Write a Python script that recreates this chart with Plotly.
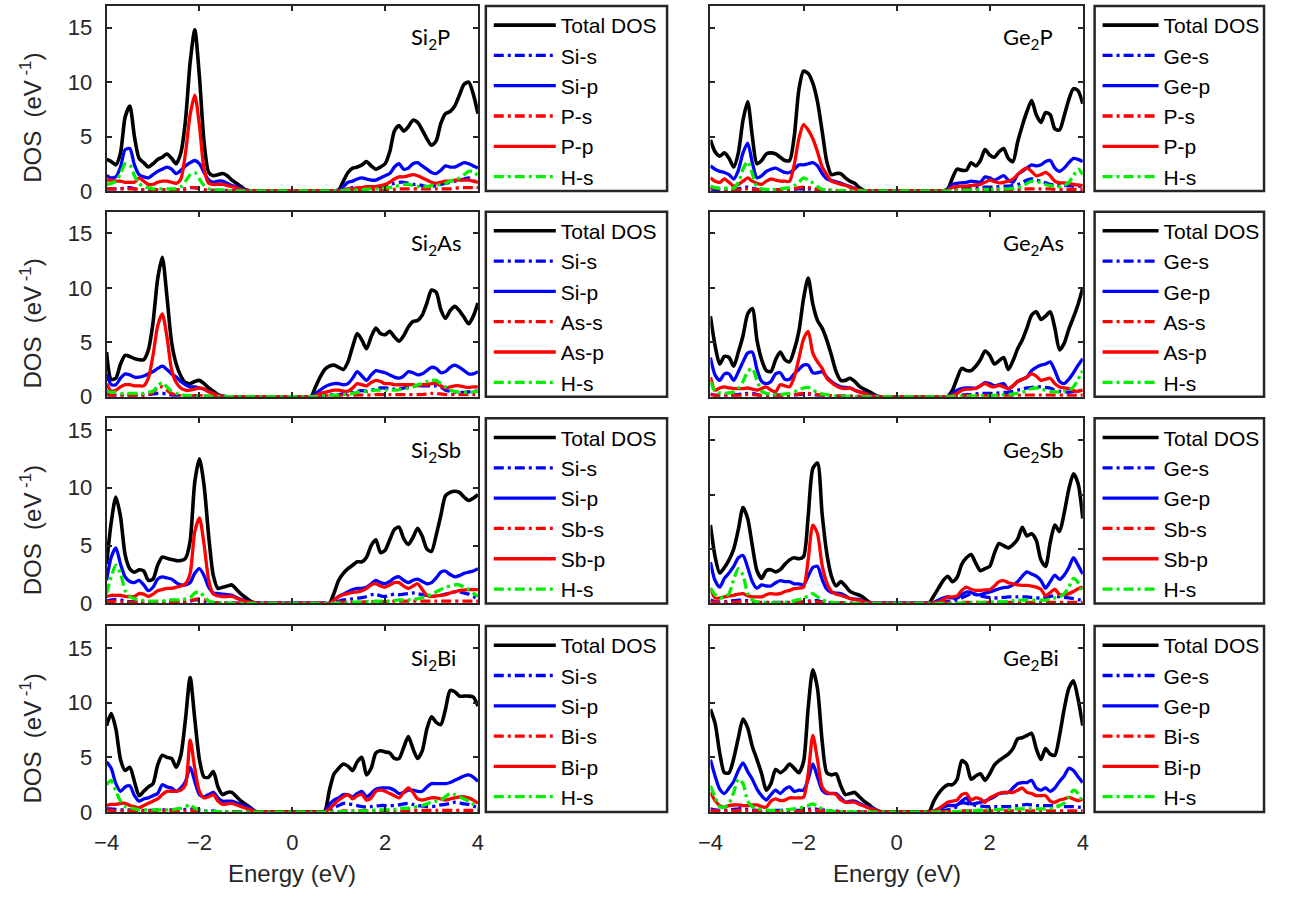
import plotly.graph_objects as go

# Energy grid (eV), 0.1 eV step
energy = [round(-4.0 + 0.1 * i, 1) for i in range(81)]

# ---------------- Si2P ----------------
si2p_tot = [
    2.9, 2.7, 2.4, 3.5, 6.8, 7.8, 5.0, 3.0, 2.6, 2.2,
    2.5, 2.9, 3.1, 3.4, 3.0, 2.5, 3.5, 6.5, 11.8, 14.8,
    10.5, 4.5, 1.7, 1.4, 1.5, 1.6, 1.4, 1.0, 0.7, 0.4,
    0.1, 0, 0, 0, 0, 0, 0, 0, 0, 0,
    0, 0, 0, 0, 0, 0, 0, 0, 0, 0,
    0.1, 0.9, 1.7, 2.1, 2.2, 2.4, 2.7, 2.3, 2.0, 2.2,
    2.5, 3.6, 5.5, 6.0, 5.5, 5.9, 6.5, 6.3, 5.6, 4.8,
    4.2, 4.6, 6.2, 7.1, 7.3, 7.8, 8.8, 9.8, 10.0, 8.9,
    7.1,
]
si2p_a_s = [
    0.2, 0.2, 0.2, 0.2, 0.3, 0.3, 0.2, 0.1, 0.1, 0.1,
    0.1, 0.1, 0.1, 0.1, 0.1, 0.1, 0.1, 0.2, 0.3, 0.3,
    0.2, 0.1, 0.05, 0.05, 0.05, 0.05, 0.05, 0.05, 0.03, 0,
    0, 0, 0, 0, 0, 0, 0, 0, 0, 0,
    0, 0, 0, 0, 0, 0, 0, 0, 0, 0,
    0, 0.1, 0.2, 0.3, 0.3, 0.3, 0.3, 0.3, 0.3, 0.4,
    0.5, 0.6, 0.7, 0.8, 0.8, 0.7, 0.6, 0.6, 0.5, 0.4,
    0.4, 0.5, 0.6, 0.7, 0.8, 0.9, 1.0, 1.1, 1.2, 1.0,
    0.6,
]
si2p_a_p = [
    1.4, 1.2, 1.3, 2.2, 3.8, 3.9, 2.4, 1.5, 1.3, 1.2,
    1.5, 1.8, 2.0, 2.2, 2.0, 1.6, 1.9, 2.3, 2.6, 2.8,
    2.5, 1.7, 1.0, 0.8, 0.9, 0.9, 0.7, 0.5, 0.4, 0.2,
    0.1, 0, 0, 0, 0, 0, 0, 0, 0, 0,
    0, 0, 0, 0, 0, 0, 0, 0, 0, 0,
    0.05, 0.4, 0.8, 0.9, 1.1, 1.2, 1.1, 1.0, 1.0, 1.2,
    1.4, 1.6, 2.2, 2.5, 2.0, 2.1, 2.5, 2.6, 2.3, 2.0,
    1.7, 1.6, 1.9, 2.3, 2.2, 2.2, 2.4, 2.6, 2.5, 2.3,
    2.1,
]
si2p_b_s = [
    0.2, 0.2, 0.2, 0.2, 0.2, 0.2, 0.2, 0.1, 0.1, 0.1,
    0.1, 0.1, 0.1, 0.1, 0.1, 0.1, 0.1, 0.2, 0.3, 0.3,
    0.2, 0.1, 0.05, 0.05, 0.05, 0.05, 0.03, 0.02, 0, 0,
    0, 0, 0, 0, 0, 0, 0, 0, 0, 0,
    0, 0, 0, 0, 0, 0, 0, 0, 0, 0,
    0, 0.05, 0.1, 0.1, 0.1, 0.1, 0.1, 0.1, 0.1, 0.1,
    0.1, 0.1, 0.15, 0.2, 0.2, 0.2, 0.2, 0.2, 0.2, 0.2,
    0.2, 0.2, 0.2, 0.2, 0.2, 0.25, 0.3, 0.3, 0.3, 0.3,
    0.3,
]
si2p_b_p = [
    1.0, 1.0, 0.9, 0.9, 0.8, 0.8, 0.8, 1.2, 0.9, 0.6,
    0.6, 0.8, 0.9, 0.9, 0.8, 0.7, 1.1, 3.5, 7.0, 8.8,
    6.0, 2.0, 0.7, 0.6, 0.6, 0.6, 0.5, 0.4, 0.3, 0.1,
    0.05, 0, 0, 0, 0, 0, 0, 0, 0, 0,
    0, 0, 0, 0, 0, 0, 0, 0, 0, 0,
    0, 0.1, 0.2, 0.2, 0.3, 0.3, 0.4, 0.4, 0.4, 0.5,
    0.6, 0.8, 1.1, 1.3, 1.3, 1.4, 1.5, 1.4, 1.2, 1.0,
    0.8, 0.7, 0.8, 0.9, 0.9, 1.0, 1.0, 1.0, 1.0, 0.9,
    0.8,
]
si2p_h_s = [
    0.6, 0.7, 0.9, 1.6, 2.5, 2.4, 1.4, 0.7, 0.4, 0.3,
    0.2, 0.2, 0.2, 0.2, 0.2, 0.2, 0.4, 0.9, 1.5, 1.7,
    1.1, 0.5, 0.2, 0.1, 0.1, 0.1, 0.05, 0.03, 0, 0,
    0, 0, 0, 0, 0, 0, 0, 0, 0, 0,
    0, 0, 0, 0, 0, 0, 0, 0, 0, 0,
    0, 0.05, 0.1, 0.1, 0.1, 0.1, 0.15, 0.2, 0.2, 0.2,
    0.3, 0.3, 0.4, 0.5, 0.6, 0.6, 0.5, 0.4, 0.4, 0.4,
    0.5, 0.5, 0.6, 0.7, 0.9, 1.0, 1.2, 1.5, 1.8, 1.8,
    1.4,
]

# ---------------- Si2As ----------------
si2as_tot = [
    4.1, 1.6, 1.7, 3.0, 3.8, 3.7, 3.5, 3.4, 3.4, 4.3,
    6.8, 10.8, 12.8, 9.2, 5.0, 3.0, 1.9, 1.3, 1.2, 1.4,
    1.5, 1.2, 0.8, 0.5, 0.2, 0.05, 0, 0, 0, 0,
    0, 0, 0, 0, 0, 0, 0, 0, 0, 0,
    0, 0, 0, 0, 0, 0.9, 1.8, 2.5, 2.8, 2.9,
    2.7, 2.5, 3.2, 4.6, 5.8, 5.2, 4.4, 5.5, 6.3, 5.8,
    5.7, 6.0, 5.5, 5.1, 5.6, 6.4, 6.9, 7.0, 7.5, 8.6,
    9.8, 9.6, 8.0, 7.2, 7.9, 8.3, 7.9, 7.3, 6.7, 7.4,
    8.6,
]
si2as_a_s = [
    0.2, 0.15, 0.15, 0.15, 0.15, 0.15, 0.15, 0.15, 0.15, 0.2,
    0.25, 0.3, 0.3, 0.25, 0.15, 0.1, 0.1, 0.1, 0.1, 0.1,
    0.1, 0.05, 0.05, 0.03, 0, 0, 0, 0, 0, 0,
    0, 0, 0, 0, 0, 0, 0, 0, 0, 0,
    0, 0, 0, 0, 0, 0, 0.05, 0.1, 0.15, 0.2,
    0.2, 0.25, 0.3, 0.4, 0.5, 0.55, 0.5, 0.6, 0.7, 0.8,
    0.8, 0.75, 0.7, 0.7, 0.8, 0.9, 0.95, 1.0, 1.0, 1.0,
    1.0, 1.0, 0.9, 0.6, 0.5, 0.45, 0.4, 0.4, 0.45, 0.5,
    0.5,
]
si2as_a_p = [
    2.1, 1.1, 1.1, 1.7, 2.1, 2.0, 1.8, 1.8, 1.9, 2.1,
    2.3, 2.6, 2.8, 2.5, 2.1, 1.8, 1.4, 1.1, 0.9, 0.9,
    0.8, 0.7, 0.5, 0.3, 0.15, 0.05, 0, 0, 0, 0,
    0, 0, 0, 0, 0, 0, 0, 0, 0, 0,
    0, 0, 0, 0, 0, 0.3, 0.6, 0.9, 1.1, 1.2,
    1.2, 1.1, 1.2, 1.7, 2.3, 1.9, 1.5, 2.0, 2.4, 2.3,
    2.2, 2.0, 1.8, 1.7, 1.9, 2.3, 2.2, 2.0, 2.1, 2.4,
    2.7, 2.6, 2.2, 2.3, 2.7, 2.9, 2.7, 2.4, 2.1, 2.1,
    2.3,
]
si2as_b_s = [
    0.2, 0.1, 0.1, 0.1, 0.1, 0.1, 0.1, 0.1, 0.1, 0.2,
    0.4, 0.8, 0.9, 0.6, 0.3, 0.15, 0.1, 0.1, 0.1, 0.1,
    0.1, 0.05, 0.05, 0.03, 0, 0, 0, 0, 0, 0,
    0, 0, 0, 0, 0, 0, 0, 0, 0, 0,
    0, 0, 0, 0, 0, 0, 0.05, 0.05, 0.1, 0.1,
    0.1, 0.1, 0.1, 0.1, 0.15, 0.15, 0.15, 0.15, 0.2, 0.2,
    0.2, 0.2, 0.2, 0.2, 0.2, 0.2, 0.2, 0.2, 0.2, 0.25,
    0.3, 0.3, 0.25, 0.2, 0.2, 0.2, 0.2, 0.2, 0.2, 0.2,
    0.2,
]
si2as_b_p = [
    1.2, 0.5, 0.6, 0.9, 1.1, 1.1, 1.0, 1.0, 1.0, 1.7,
    3.8, 6.5, 7.6, 5.5, 2.5, 1.3, 0.8, 0.6, 0.6, 0.7,
    0.8, 0.7, 0.45, 0.3, 0.1, 0.03, 0, 0, 0, 0,
    0, 0, 0, 0, 0, 0, 0, 0, 0, 0,
    0, 0, 0, 0, 0, 0.1, 0.3, 0.4, 0.5, 0.6,
    0.6, 0.5, 0.5, 0.8, 1.2, 1.1, 1.0, 1.3, 1.5, 1.4,
    1.2, 1.2, 1.1, 1.1, 1.1, 1.1, 1.1, 1.0, 1.1, 1.1,
    1.2, 1.2, 1.0, 0.8, 0.9, 1.0, 1.0, 0.9, 0.85, 0.9,
    0.9,
]
si2as_h_s = [
    0.5, 0.4, 0.4, 0.3, 0.3, 0.3, 0.3, 0.3, 0.3, 0.4,
    0.5, 1.0, 1.3, 0.9, 0.5, 0.3, 0.2, 0.1, 0.1, 0.1,
    0.05, 0.05, 0.05, 0.03, 0, 0, 0, 0, 0, 0,
    0, 0, 0, 0, 0, 0, 0, 0, 0, 0,
    0, 0, 0, 0, 0, 0, 0.05, 0.1, 0.1, 0.15,
    0.15, 0.2, 0.25, 0.3, 0.4, 0.45, 0.5, 0.55, 0.6, 0.6,
    0.6, 0.6, 0.6, 0.65, 0.7, 0.8, 0.9, 1.1, 1.2, 1.4,
    1.5, 1.5, 1.2, 0.9, 0.6, 0.5, 0.4, 0.4, 0.4, 0.45,
    0.5,
]

# ---------------- Si2Sb ----------------
si2sb_tot = [
    3.4, 7.0, 9.2, 7.5, 4.2, 3.0, 2.7, 2.9, 2.8, 2.0,
    2.1, 3.3, 4.0, 3.9, 3.8, 3.7, 3.7, 3.9, 5.4, 10.5,
    12.5, 10.2, 5.8, 2.4, 1.3, 1.4, 1.5, 1.6, 1.2, 0.8,
    0.5, 0.2, 0.05, 0, 0, 0, 0, 0, 0, 0,
    0, 0, 0, 0, 0, 0, 0, 0, 0, 0.9,
    2.0, 2.6, 3.0, 3.3, 3.6, 3.6, 4.0, 5.0, 5.5, 4.4,
    4.6, 5.5, 6.4, 6.6, 5.6, 5.1, 5.7, 6.5, 5.8, 4.7,
    4.5, 5.9, 7.6, 9.3, 9.6, 9.7, 9.6, 9.2, 8.9, 9.1,
    9.4,
]
si2sb_a_s = [
    0.2, 0.3, 0.35, 0.3, 0.2, 0.15, 0.15, 0.15, 0.15, 0.1,
    0.1, 0.15, 0.15, 0.15, 0.15, 0.15, 0.15, 0.15, 0.2, 0.3,
    0.3, 0.2, 0.1, 0.05, 0.05, 0.05, 0.05, 0.05, 0.03, 0.02,
    0, 0, 0, 0, 0, 0, 0, 0, 0, 0,
    0, 0, 0, 0, 0, 0, 0, 0, 0, 0.1,
    0.2, 0.3, 0.35, 0.4, 0.45, 0.5, 0.6, 0.75, 0.8, 0.65,
    0.6, 0.7, 0.8, 0.75, 0.8, 0.85, 0.9, 0.85, 0.75, 0.7,
    0.65, 0.6, 0.7, 0.8, 0.9, 1.0, 1.0, 0.9, 0.8, 0.6,
    0.4,
]
si2sb_a_p = [
    2.0, 4.0, 4.8, 3.4, 2.3, 1.9, 1.8, 2.0, 1.6, 1.1,
    1.4, 2.1, 2.3, 2.2, 2.1, 1.8, 1.6, 1.6, 1.8, 2.6,
    3.0, 2.4, 1.4, 0.9, 0.85, 0.8, 0.75, 0.7, 0.5, 0.35,
    0.2, 0.1, 0.05, 0, 0, 0, 0, 0, 0, 0,
    0, 0, 0, 0, 0, 0, 0, 0, 0, 0.3,
    0.6, 0.8, 1.0, 1.2, 1.3, 1.3, 1.4, 1.7, 2.0, 1.8,
    1.7, 1.9, 2.2, 2.3, 2.0, 1.8, 2.0, 2.1, 1.9, 1.7,
    1.8, 2.2, 2.7, 2.8, 2.5, 2.3, 2.4, 2.6, 2.7, 2.8,
    3.0,
]
si2sb_b_s = [
    0.15, 0.15, 0.2, 0.15, 0.1, 0.1, 0.1, 0.1, 0.1, 0.1,
    0.1, 0.1, 0.1, 0.1, 0.1, 0.1, 0.1, 0.15, 0.2, 0.35,
    0.4, 0.3, 0.15, 0.05, 0.05, 0.05, 0.05, 0.03, 0.02, 0,
    0, 0, 0, 0, 0, 0, 0, 0, 0, 0,
    0, 0, 0, 0, 0, 0, 0, 0, 0, 0.05,
    0.1, 0.1, 0.1, 0.1, 0.1, 0.1, 0.15, 0.15, 0.15, 0.15,
    0.15, 0.15, 0.2, 0.2, 0.2, 0.2, 0.2, 0.2, 0.2, 0.2,
    0.2, 0.2, 0.2, 0.2, 0.2, 0.2, 0.2, 0.2, 0.2, 0.2,
    0.2,
]
si2sb_b_p = [
    0.6, 0.7, 0.7, 0.7, 0.6, 0.6, 0.6, 0.85, 0.8, 0.6,
    0.8, 1.1, 1.2, 1.3, 1.3, 1.4, 1.5, 1.7, 2.6, 6.2,
    7.4, 5.1, 2.0, 0.8, 0.65, 0.6, 0.6, 0.6, 0.45, 0.3,
    0.15, 0.08, 0.03, 0, 0, 0, 0, 0, 0, 0,
    0, 0, 0, 0, 0, 0, 0, 0, 0, 0.3,
    0.6, 0.75, 0.85, 0.95, 1.0, 1.1, 1.3, 1.6, 1.7, 1.5,
    1.4, 1.6, 1.8, 1.8, 1.5, 1.3, 1.5, 1.7, 1.2, 0.7,
    0.6, 0.65, 0.7, 0.75, 0.9, 1.0, 1.1, 1.15, 1.2, 1.2,
    1.2,
]
si2sb_h_s = [
    0.85, 2.3, 3.3, 2.6, 1.1, 0.6, 0.4, 0.3, 0.25, 0.2,
    0.2, 0.2, 0.2, 0.25, 0.3, 0.3, 0.3, 0.4, 0.5, 0.9,
    1.0, 0.6, 0.2, 0.1, 0.05, 0.05, 0.05, 0.03, 0, 0,
    0, 0, 0, 0, 0, 0, 0, 0, 0, 0,
    0, 0, 0, 0, 0, 0, 0, 0, 0, 0,
    0.05, 0.05, 0.05, 0.1, 0.1, 0.1, 0.15, 0.15, 0.2, 0.2,
    0.2, 0.2, 0.25, 0.3, 0.3, 0.3, 0.35, 0.4, 0.5, 0.6,
    0.8, 1.0, 1.2, 1.4, 1.5, 1.6, 1.6, 1.4, 1.2, 0.9,
    0.6,
]

# ---------------- Si2Bi ----------------
si2bi_tot = [
    7.9, 9.0, 7.6, 4.8, 3.8, 4.1, 2.8, 1.5, 1.9, 2.3,
    2.6, 4.3, 5.2, 5.0, 4.9, 4.1, 5.2, 8.5, 12.3, 8.5,
    4.8, 3.2, 3.2, 3.7, 2.3, 1.6, 1.8, 1.8, 1.4, 1.0,
    0.7, 0.4, 0.05, 0, 0, 0, 0, 0, 0, 0,
    0, 0, 0, 0, 0, 0, 0, 0.1, 2.0, 3.5,
    4.0, 4.4, 4.2, 3.8, 4.6, 5.0, 3.4, 4.0, 5.4, 5.6,
    5.5, 5.4, 4.9, 4.9, 5.9, 6.9, 5.8, 4.9, 5.6, 7.6,
    8.7, 8.2, 8.0, 9.4, 11.1, 11.0, 10.6, 10.6, 10.6, 10.5,
    9.7,
]
si2bi_a_s = [
    0.3, 0.3, 0.25, 0.2, 0.2, 0.2, 0.15, 0.15, 0.15, 0.15,
    0.15, 0.2, 0.2, 0.2, 0.2, 0.2, 0.2, 0.25, 0.3, 0.2,
    0.15, 0.1, 0.1, 0.1, 0.05, 0.05, 0.05, 0.05, 0.03, 0.02,
    0, 0, 0, 0, 0, 0, 0, 0, 0, 0,
    0, 0, 0, 0, 0, 0, 0, 0, 0.2, 0.4,
    0.6, 0.8, 0.75, 0.7, 0.6, 0.5, 0.45, 0.5, 0.55, 0.6,
    0.6, 0.6, 0.6, 0.65, 0.75, 0.8, 0.7, 0.6, 0.55, 0.5,
    0.5, 0.55, 0.65, 0.7, 0.8, 0.9, 0.85, 0.75, 0.7, 0.55,
    0.4,
]
si2bi_a_p = [
    4.6, 4.0, 2.6, 1.9, 2.3, 2.4, 1.5, 1.0, 1.2, 1.3,
    1.5, 1.7, 2.5, 2.3, 2.2, 1.9, 2.2, 2.8, 4.1, 2.8,
    1.6, 1.4, 1.6, 1.8, 1.3, 1.0, 1.0, 1.0, 0.85, 0.7,
    0.5, 0.35, 0.1, 0, 0, 0, 0, 0, 0, 0,
    0, 0, 0, 0, 0, 0, 0, 0.05, 0.7, 1.1,
    1.3, 1.6, 1.6, 1.4, 1.7, 1.9, 1.4, 1.7, 2.1, 2.2,
    2.2, 2.2, 2.0, 1.7, 1.8, 2.0, 2.0, 1.9, 1.9, 2.3,
    2.6, 2.6, 2.6, 2.6, 2.7, 2.9, 3.1, 3.3, 3.4, 3.2,
    2.8,
]
si2bi_b_s = [
    0.2, 0.15, 0.1, 0.1, 0.1, 0.1, 0.1, 0.1, 0.1, 0.1,
    0.1, 0.1, 0.1, 0.1, 0.1, 0.1, 0.1, 0.1, 0.15, 0.1,
    0.1, 0.05, 0.05, 0.05, 0.05, 0.03, 0.02, 0.02, 0, 0,
    0, 0, 0, 0, 0, 0, 0, 0, 0, 0,
    0, 0, 0, 0, 0, 0, 0, 0, 0, 0.05,
    0.05, 0.1, 0.1, 0.1, 0.1, 0.1, 0.1, 0.1, 0.1, 0.1,
    0.1, 0.1, 0.1, 0.1, 0.1, 0.15, 0.15, 0.15, 0.15, 0.15,
    0.15, 0.15, 0.15, 0.15, 0.15, 0.15, 0.15, 0.15, 0.15, 0.15,
    0.15,
]
si2bi_b_p = [
    0.6, 0.7, 0.7, 0.8, 0.8, 0.6, 0.5, 0.4, 0.6, 0.8,
    1.0, 1.2, 1.6, 1.9, 1.9, 1.9, 2.0, 2.5, 6.6, 4.0,
    1.9, 1.3, 1.4, 1.6, 1.0, 0.7, 0.75, 0.8, 0.65, 0.5,
    0.35, 0.2, 0.05, 0, 0, 0, 0, 0, 0, 0,
    0, 0, 0, 0, 0, 0, 0, 0, 0.3, 0.7,
    1.1, 1.4, 1.6, 1.2, 1.5, 1.6, 1.1, 1.3, 1.9, 2.0,
    1.9, 1.7, 1.5, 1.3, 1.8, 2.2, 1.8, 1.2, 1.1, 1.2,
    1.3, 1.3, 1.2, 1.1, 1.2, 1.3, 1.4, 1.4, 1.3, 1.1,
    0.8,
]
si2bi_h_s = [
    2.5, 2.9, 1.9, 1.0, 0.5, 0.4, 0.3, 0.2, 0.2, 0.2,
    0.2, 0.2, 0.2, 0.2, 0.2, 0.3, 0.35, 0.5, 0.7, 0.35,
    0.2, 0.1, 0.05, 0.05, 0.05, 0.03, 0.02, 0, 0, 0,
    0, 0, 0, 0, 0, 0, 0, 0, 0, 0,
    0, 0, 0, 0, 0, 0, 0, 0, 0, 0,
    0.05, 0.05, 0.05, 0.08, 0.1, 0.1, 0.12, 0.15, 0.18, 0.2,
    0.2, 0.22, 0.25, 0.3, 0.35, 0.35, 0.4, 0.5, 0.6, 0.75,
    0.9, 1.0, 1.1, 1.4, 1.7, 1.6, 1.4, 1.2, 1.0, 0.7,
    0.4,
]

# ---------------- Ge2P ----------------
ge2p_tot = [
    4.7, 3.6, 3.2, 3.5, 3.0, 2.2, 3.5, 6.5, 8.2, 5.0,
    2.5, 2.8, 3.4, 3.5, 3.4, 3.1, 2.8, 2.8, 5.0, 9.3,
    11.0, 10.8, 9.9, 8.2, 5.5, 2.7, 1.5, 1.6, 1.6, 1.2,
    0.9, 0.7, 0.3, 0.05, 0, 0, 0, 0, 0, 0,
    0, 0, 0, 0, 0, 0, 0, 0, 0, 0,
    0, 0.2, 1.2, 2.0, 1.9, 1.9, 2.6, 2.3, 2.8, 3.8,
    3.3, 3.1, 3.6, 3.9, 3.0, 2.7, 4.5, 6.0, 7.3, 8.3,
    7.0, 6.3, 7.2, 7.0, 5.7, 5.6, 6.9, 8.4, 9.4, 9.2,
    8.0,
]
ge2p_a_s = [
    0.2, 0.15, 0.15, 0.15, 0.15, 0.15, 0.2, 0.3, 0.35, 0.25,
    0.15, 0.1, 0.1, 0.1, 0.1, 0.1, 0.1, 0.1, 0.15, 0.2,
    0.2, 0.2, 0.15, 0.1, 0.1, 0.05, 0.05, 0.05, 0.03, 0.02,
    0, 0, 0, 0, 0, 0, 0, 0, 0, 0,
    0, 0, 0, 0, 0, 0, 0, 0, 0, 0,
    0, 0.05, 0.15, 0.2, 0.2, 0.25, 0.3, 0.3, 0.3, 0.35,
    0.35, 0.35, 0.4, 0.45, 0.45, 0.5, 0.6, 0.8, 1.0, 1.1,
    1.0, 0.9, 0.75, 0.6, 0.55, 0.5, 0.5, 0.5, 0.45, 0.45,
    0.4,
]
ge2p_a_p = [
    2.3, 2.0, 1.8, 1.7, 1.5, 1.1, 1.9, 3.5, 4.4, 2.6,
    1.2, 1.4, 1.8, 2.0, 2.1, 1.9, 1.7, 1.7, 2.0, 2.4,
    2.4, 2.5, 2.6, 2.3, 1.6, 1.1, 0.95, 0.85, 0.7, 0.55,
    0.4, 0.25, 0.1, 0.03, 0, 0, 0, 0, 0, 0,
    0, 0, 0, 0, 0, 0, 0, 0, 0, 0,
    0, 0.1, 0.6, 0.7, 0.75, 0.8, 0.9, 0.85, 0.8, 1.3,
    1.2, 1.0, 1.2, 1.4, 1.0, 0.8, 1.5, 1.8, 2.1, 2.4,
    2.3, 2.4, 2.7, 2.8, 2.1, 1.8, 2.1, 2.6, 3.0, 2.9,
    2.7,
]
ge2p_b_s = [
    0.25, 0.3, 0.2, 0.15, 0.15, 0.1, 0.1, 0.15, 0.2, 0.15,
    0.1, 0.1, 0.1, 0.1, 0.1, 0.1, 0.1, 0.15, 0.2, 0.3,
    0.35, 0.3, 0.25, 0.15, 0.1, 0.05, 0.05, 0.03, 0.02, 0,
    0, 0, 0, 0, 0, 0, 0, 0, 0, 0,
    0, 0, 0, 0, 0, 0, 0, 0, 0, 0,
    0, 0.02, 0.05, 0.1, 0.1, 0.1, 0.1, 0.1, 0.1, 0.1,
    0.1, 0.1, 0.1, 0.1, 0.1, 0.15, 0.15, 0.15, 0.2, 0.2,
    0.2, 0.2, 0.2, 0.2, 0.15, 0.15, 0.15, 0.15, 0.15, 0.15,
    0.15,
]
ge2p_b_p = [
    1.2, 0.9, 0.8, 1.1, 0.8, 0.45, 0.6, 0.9, 1.2, 0.9,
    0.7, 0.6, 0.9, 1.1, 1.0, 0.9, 0.9, 0.9, 2.4, 4.8,
    6.1, 5.6, 4.8, 3.6, 2.2, 1.5, 0.9, 0.75, 0.6, 0.5,
    0.35, 0.2, 0.1, 0.02, 0, 0, 0, 0, 0, 0,
    0, 0, 0, 0, 0, 0, 0, 0, 0, 0,
    0, 0.05, 0.35, 0.4, 0.45, 0.45, 0.5, 0.55, 0.6, 0.8,
    1.0, 0.85, 0.75, 0.8, 0.9, 1.1, 1.5, 1.9, 2.1, 1.8,
    1.4, 1.5, 1.7, 1.4, 0.9, 0.75, 0.75, 0.7, 0.6, 0.55,
    0.5,
]
ge2p_h_s = [
    0.45, 0.3, 0.25, 0.25, 0.25, 0.25, 0.8, 2.0, 2.7, 1.6,
    0.35, 0.2, 0.15, 0.15, 0.15, 0.2, 0.25, 0.3, 0.5, 0.8,
    1.2, 1.0, 0.75, 0.4, 0.15, 0.1, 0.05, 0.05, 0.03, 0.02,
    0, 0, 0, 0, 0, 0, 0, 0, 0, 0,
    0, 0, 0, 0, 0, 0, 0, 0, 0, 0,
    0, 0, 0.02, 0.05, 0.05, 0.08, 0.1, 0.1, 0.12, 0.15,
    0.15, 0.15, 0.18, 0.2, 0.2, 0.25, 0.3, 0.4, 0.7, 0.9,
    0.85, 0.8, 0.6, 0.5, 0.45, 0.4, 0.5, 0.8, 1.4, 2.0,
    1.5,
]

# ---------------- Ge2As ----------------
ge2as_tot = [
    7.4, 4.7, 3.0, 3.7, 3.6, 2.8, 4.1, 5.6, 7.6, 8.1,
    5.2, 3.4, 2.4, 2.3, 3.4, 4.1, 3.4, 3.2, 4.3, 6.0,
    9.0, 10.9, 8.5, 7.0, 6.3, 5.2, 3.8, 2.3, 1.5, 1.5,
    1.7, 1.4, 0.95, 0.7, 0.5, 0.25, 0.03, 0, 0, 0,
    0, 0, 0, 0, 0, 0, 0, 0, 0, 0,
    0, 0.02, 0.6, 1.7, 2.6, 2.4, 2.4, 2.8, 3.4, 4.2,
    3.8, 3.0, 3.3, 3.6, 2.5, 3.3, 4.4, 5.2, 6.3, 7.5,
    7.8, 7.1, 7.4, 7.8, 6.3, 4.3, 4.9, 6.2, 7.3, 8.5,
    10.0,
]
ge2as_a_s = [
    0.25, 0.15, 0.15, 0.15, 0.15, 0.15, 0.2, 0.25, 0.3, 0.3,
    0.2, 0.1, 0.1, 0.1, 0.15, 0.15, 0.1, 0.1, 0.15, 0.2,
    0.25, 0.25, 0.2, 0.15, 0.15, 0.1, 0.1, 0.05, 0.05, 0.05,
    0.05, 0.03, 0.02, 0, 0, 0, 0, 0, 0, 0,
    0, 0, 0, 0, 0, 0, 0, 0, 0, 0,
    0, 0, 0.05, 0.1, 0.15, 0.2, 0.2, 0.25, 0.3, 0.3,
    0.3, 0.3, 0.35, 0.4, 0.4, 0.5, 0.6, 0.7, 0.8, 0.85,
    0.9, 0.9, 0.85, 0.8, 0.6, 0.5, 0.45, 0.4, 0.5, 0.55,
    0.6,
]
ge2as_a_p = [
    3.6, 2.0, 1.5, 2.1, 2.1, 1.5, 2.3, 3.2, 4.0, 4.1,
    2.5, 1.4, 1.2, 1.4, 2.1, 2.2, 1.6, 1.6, 2.1, 2.5,
    2.9, 2.9, 2.2, 2.2, 2.3, 1.8, 1.4, 1.1, 0.9, 0.85,
    0.8, 0.6, 0.45, 0.35, 0.2, 0.1, 0.03, 0, 0, 0,
    0, 0, 0, 0, 0, 0, 0, 0, 0, 0,
    0, 0.02, 0.3, 0.6, 0.75, 0.8, 0.8, 0.8, 1.0, 1.3,
    1.2, 1.0, 1.1, 1.2, 0.7, 1.0, 1.4, 1.6, 1.8, 2.4,
    2.7, 2.9, 3.0, 3.2, 2.4, 1.4, 1.2, 1.6, 2.2, 2.9,
    3.5,
]
ge2as_b_s = [
    0.2, 0.1, 0.1, 0.1, 0.1, 0.1, 0.1, 0.15, 0.2, 0.2,
    0.15, 0.1, 0.1, 0.1, 0.1, 0.1, 0.1, 0.1, 0.15, 0.25,
    0.3, 0.3, 0.25, 0.2, 0.15, 0.1, 0.1, 0.05, 0.05, 0.05,
    0.05, 0.03, 0.02, 0, 0, 0, 0, 0, 0, 0,
    0, 0, 0, 0, 0, 0, 0, 0, 0, 0,
    0, 0, 0.03, 0.05, 0.05, 0.08, 0.1, 0.1, 0.1, 0.1,
    0.1, 0.1, 0.1, 0.1, 0.1, 0.1, 0.12, 0.15, 0.15, 0.15,
    0.15, 0.15, 0.15, 0.15, 0.15, 0.15, 0.12, 0.12, 0.12, 0.15,
    0.15,
]
ge2as_b_p = [
    1.8, 0.6, 0.8, 0.9, 0.8, 0.75, 0.75, 0.75, 0.8, 0.7,
    0.6, 0.75, 0.9, 0.6, 0.45, 1.1, 1.0, 0.9, 1.8, 3.5,
    5.3, 6.0, 4.0, 3.2, 2.6, 1.7, 1.3, 1.0, 0.8, 0.75,
    0.8, 0.6, 0.45, 0.3, 0.15, 0.05, 0.02, 0, 0, 0,
    0, 0, 0, 0, 0, 0, 0, 0, 0, 0,
    0, 0, 0.15, 0.3, 0.6, 0.7, 0.7, 0.75, 1.0, 1.2,
    1.0, 0.9, 1.05, 0.9, 0.75, 1.0, 1.4, 1.6, 1.8, 2.1,
    1.9, 1.5, 1.6, 1.7, 1.2, 0.9, 0.8, 0.75, 0.55, 0.5,
    0.6,
]
ge2as_h_s = [
    1.4, 0.5, 0.35, 0.3, 0.35, 0.45, 0.8, 1.4, 2.3, 2.6,
    1.5, 0.5, 0.3, 0.25, 0.2, 0.2, 0.25, 0.3, 0.45, 0.6,
    0.8, 0.85, 0.6, 0.4, 0.25, 0.2, 0.1, 0.05, 0.05, 0.03,
    0.02, 0, 0, 0, 0, 0, 0, 0, 0, 0,
    0, 0, 0, 0, 0, 0, 0, 0, 0, 0,
    0, 0, 0.02, 0.03, 0.05, 0.05, 0.06, 0.08, 0.1, 0.1,
    0.1, 0.12, 0.15, 0.18, 0.2, 0.25, 0.3, 0.4, 0.55, 0.75,
    0.8, 0.7, 0.6, 0.5, 0.45, 0.4, 0.5, 0.6, 0.9, 1.6,
    2.4,
]

# ---------------- Ge2Sb ----------------
ge2sb_tot = [
    7.2, 4.3, 2.8, 3.3, 4.0, 5.0, 6.8, 8.8, 7.8, 5.3,
    3.0, 2.3, 3.0, 3.1, 2.9, 3.1, 3.6, 4.0, 4.2, 4.1,
    4.3, 8.0, 12.4, 12.9, 8.2, 4.6, 2.5, 1.6, 2.0, 1.6,
    1.1, 0.9, 0.75, 0.5, 0.15, 0.02, 0, 0, 0, 0,
    0, 0, 0, 0, 0, 0, 0, 0.05, 0.7, 1.4,
    2.1, 2.5, 2.0, 2.4, 3.6, 4.2, 4.5, 3.7, 3.0, 3.2,
    3.4, 4.6, 5.5, 5.3, 5.1, 5.4, 5.9, 7.0, 6.2, 6.4,
    5.8, 4.0, 3.4, 5.6, 7.2, 6.6, 8.3, 10.5, 11.9, 11.0,
    7.8,
]
ge2sb_a_s = [
    0.3, 0.15, 0.15, 0.15, 0.2, 0.25, 0.3, 0.3, 0.25, 0.15,
    0.1, 0.1, 0.1, 0.1, 0.1, 0.1, 0.1, 0.1, 0.1, 0.1,
    0.15, 0.2, 0.25, 0.25, 0.15, 0.1, 0.05, 0.05, 0.05, 0.05,
    0.03, 0.02, 0, 0, 0, 0, 0, 0, 0, 0,
    0, 0, 0, 0, 0, 0, 0, 0, 0, 0.05,
    0.1, 0.2, 0.25, 0.35, 0.5, 0.7, 0.9, 0.85, 0.7, 0.6,
    0.55, 0.5, 0.5, 0.55, 0.6, 0.6, 0.6, 0.6, 0.6, 0.55,
    0.5, 0.5, 0.55, 0.65, 0.7, 0.6, 0.55, 0.5, 0.45, 0.35,
    0.3,
]
ge2sb_a_p = [
    3.8, 2.1, 1.5, 2.3, 2.8, 3.4, 4.2, 4.4, 3.3, 2.0,
    1.4, 1.7, 1.6, 1.6, 1.9, 2.1, 2.0, 2.0, 1.8, 1.8,
    1.7, 2.5, 3.3, 3.4, 2.2, 1.3, 1.0, 0.95, 0.9, 0.7,
    0.45, 0.4, 0.35, 0.2, 0.05, 0, 0, 0, 0, 0,
    0, 0, 0, 0, 0, 0, 0, 0, 0.1, 0.3,
    0.5, 0.6, 0.5, 0.5, 0.8, 1.05, 1.0, 0.8, 0.8, 0.95,
    1.05, 1.2, 1.35, 1.45, 1.5, 1.7, 2.0, 2.5, 2.9, 2.7,
    2.5, 2.1, 1.4, 2.0, 2.6, 2.2, 2.6, 3.3, 4.2, 3.5,
    2.7,
]
ge2sb_b_s = [
    0.15, 0.1, 0.1, 0.1, 0.1, 0.1, 0.15, 0.15, 0.1, 0.1,
    0.05, 0.05, 0.05, 0.05, 0.05, 0.05, 0.05, 0.05, 0.05, 0.05,
    0.1, 0.15, 0.2, 0.15, 0.1, 0.05, 0.05, 0.03, 0.03, 0.02,
    0.02, 0, 0, 0, 0, 0, 0, 0, 0, 0,
    0, 0, 0, 0, 0, 0, 0, 0, 0, 0.02,
    0.05, 0.05, 0.05, 0.05, 0.1, 0.1, 0.1, 0.1, 0.1, 0.1,
    0.1, 0.1, 0.1, 0.1, 0.1, 0.1, 0.1, 0.1, 0.1, 0.1,
    0.1, 0.1, 0.1, 0.1, 0.1, 0.1, 0.1, 0.1, 0.1, 0.1,
    0.1,
]
ge2sb_b_p = [
    1.4, 0.5, 0.5, 0.6, 0.7, 0.75, 0.85, 0.9, 0.7, 0.6,
    0.6, 0.6, 0.8, 0.9, 0.85, 0.9, 1.1, 1.2, 1.35, 1.4,
    1.5, 4.0, 7.2, 6.4, 3.5, 1.9, 1.1, 0.85, 0.75, 0.6,
    0.45, 0.35, 0.3, 0.15, 0.05, 0, 0, 0, 0, 0,
    0, 0, 0, 0, 0, 0, 0, 0, 0.05, 0.15,
    0.35, 0.6, 0.6, 0.7, 1.2, 1.5, 1.3, 1.2, 1.2, 1.25,
    1.25, 1.6, 2.0, 2.1, 1.9, 1.8, 1.7, 1.65, 1.65, 1.6,
    1.5, 1.3, 0.7, 1.0, 1.3, 0.8, 0.8, 0.9, 1.1, 1.35,
    1.5,
]
ge2sb_h_s = [
    1.4, 0.8, 0.5, 0.6, 0.9, 2.2, 3.2, 2.6, 0.9, 0.3,
    0.15, 0.1, 0.08, 0.05, 0.05, 0.08, 0.1, 0.15, 0.25, 0.35,
    0.45, 0.7, 0.9, 0.6, 0.35, 0.15, 0.1, 0.05, 0.05, 0.03,
    0.02, 0, 0, 0, 0, 0, 0, 0, 0, 0,
    0, 0, 0, 0, 0, 0, 0, 0, 0, 0,
    0, 0, 0.02, 0.03, 0.04, 0.05, 0.06, 0.08, 0.1, 0.1,
    0.1, 0.12, 0.15, 0.15, 0.2, 0.25, 0.3, 0.3, 0.3, 0.3,
    0.3, 0.3, 0.3, 0.4, 0.5, 0.6, 0.9, 1.5, 2.3, 1.9,
    0.9,
]

# ---------------- Ge2Bi ----------------
ge2bi_tot = [
    9.4, 8.1, 5.4, 3.6, 3.6, 4.9, 6.8, 8.5, 7.7, 6.0,
    4.8, 3.5, 2.0, 2.6, 3.9, 3.6, 3.9, 4.4, 4.0, 3.6,
    4.6, 9.5, 13.0, 11.3, 6.5, 3.6, 3.4, 3.5, 2.4, 1.6,
    1.7, 1.8, 1.4, 1.0, 0.7, 0.35, 0.1, 0, 0, 0,
    0, 0, 0, 0, 0, 0, 0, 0.05, 1.0, 1.7,
    2.2, 2.5, 2.5, 3.0, 4.7, 4.4, 3.0, 3.3, 3.5, 2.9,
    3.5, 4.3, 4.7, 5.0, 5.3, 5.8, 6.7, 6.8, 7.0, 7.2,
    5.8, 4.8, 5.8, 5.3, 5.2, 7.0, 9.4, 11.3, 12.0, 10.3,
    7.9,
]
ge2bi_a_s = [
    0.3, 0.2, 0.15, 0.15, 0.2, 0.25, 0.3, 0.3, 0.25, 0.2,
    0.15, 0.1, 0.1, 0.1, 0.15, 0.15, 0.15, 0.15, 0.15, 0.15,
    0.2, 0.25, 0.3, 0.25, 0.2, 0.15, 0.1, 0.1, 0.05, 0.05,
    0.05, 0.05, 0.03, 0.02, 0, 0, 0, 0, 0, 0,
    0, 0, 0, 0, 0, 0, 0, 0, 0, 0.1,
    0.15, 0.2, 0.3, 0.5, 0.85, 0.8, 0.7, 0.6, 0.55, 0.5,
    0.5, 0.5, 0.5, 0.5, 0.5, 0.55, 0.6, 0.65, 0.7, 0.65,
    0.6, 0.6, 0.6, 0.6, 0.6, 0.55, 0.5, 0.5, 0.5, 0.45,
    0.4,
]
ge2bi_a_p = [
    4.8, 3.3, 2.1, 1.7, 2.2, 2.8, 3.8, 4.5, 3.7, 3.0,
    2.1, 1.5, 1.1, 1.6, 2.0, 1.7, 2.1, 2.3, 1.9, 2.0,
    2.0, 3.0, 4.4, 3.2, 2.0, 1.7, 1.7, 1.7, 1.3, 0.9,
    1.0, 1.0, 0.8, 0.6, 0.45, 0.3, 0.05, 0, 0, 0,
    0, 0, 0, 0, 0, 0, 0, 0, 0.1, 0.3,
    0.45, 0.6, 0.6, 0.65, 1.0, 1.3, 0.75, 0.8, 0.9, 1.0,
    1.2, 1.4, 1.7, 1.75, 1.8, 2.2, 2.6, 2.7, 2.7, 2.9,
    2.2, 2.0, 2.2, 1.9, 2.2, 2.8, 3.3, 4.0, 3.8, 3.2,
    2.7,
]
ge2bi_b_s = [
    0.15, 0.1, 0.1, 0.1, 0.1, 0.1, 0.15, 0.15, 0.1, 0.1,
    0.1, 0.05, 0.05, 0.05, 0.05, 0.05, 0.05, 0.05, 0.05, 0.05,
    0.1, 0.15, 0.2, 0.15, 0.1, 0.05, 0.05, 0.05, 0.03, 0.03,
    0.02, 0, 0, 0, 0, 0, 0, 0, 0, 0,
    0, 0, 0, 0, 0, 0, 0, 0, 0, 0.02,
    0.05, 0.05, 0.05, 0.05, 0.1, 0.1, 0.1, 0.1, 0.1, 0.1,
    0.1, 0.1, 0.1, 0.1, 0.1, 0.1, 0.1, 0.1, 0.1, 0.1,
    0.1, 0.1, 0.1, 0.1, 0.1, 0.1, 0.1, 0.1, 0.1, 0.1,
    0.1,
]
ge2bi_b_p = [
    1.8, 1.05, 0.6, 0.45, 0.6, 0.65, 0.65, 0.6, 0.6, 0.65,
    0.65, 0.5, 0.45, 1.0, 1.2, 1.05, 1.1, 1.3, 1.3, 1.3,
    1.35, 3.5, 7.0, 4.8, 2.3, 1.8, 1.7, 1.6, 1.1, 0.9,
    0.9, 0.9, 0.7, 0.55, 0.35, 0.25, 0.05, 0, 0, 0,
    0, 0, 0, 0, 0, 0, 0, 0, 0.1, 0.3,
    0.6, 0.9, 1.0, 1.1, 1.6, 1.7, 1.1, 1.3, 1.2, 0.9,
    1.3, 1.5, 1.7, 1.8, 1.8, 1.8, 2.0, 2.2, 1.8, 1.7,
    1.5, 1.5, 1.5, 1.0, 0.9, 1.1, 1.2, 1.35, 1.2, 1.05,
    1.2,
]
ge2bi_h_s = [
    2.4, 1.35, 0.5, 0.45, 0.8, 1.8, 3.0, 2.6, 1.0, 0.5,
    0.3, 0.25, 0.2, 0.15, 0.15, 0.15, 0.2, 0.25, 0.3, 0.35,
    0.45, 0.6, 0.75, 0.5, 0.3, 0.15, 0.1, 0.05, 0.05, 0.03,
    0.02, 0, 0, 0, 0, 0, 0, 0, 0, 0,
    0, 0, 0, 0, 0, 0, 0, 0, 0, 0,
    0, 0, 0.03, 0.05, 0.08, 0.1, 0.12, 0.15, 0.18, 0.2,
    0.2, 0.22, 0.25, 0.25, 0.25, 0.28, 0.3, 0.3, 0.3, 0.3,
    0.3, 0.3, 0.3, 0.35, 0.4, 0.6, 0.8, 1.4, 2.0, 1.7,
    0.7,
]

# Panel metadata: label, group-IV element, pnictogen, grid row/col, y maximum, curves
panels = [
    ("Si<sub>2</sub>P", "Si", "P", 0, 0, 17, [si2p_tot, si2p_a_s, si2p_a_p, si2p_b_s, si2p_b_p, si2p_h_s]),
    ("Ge<sub>2</sub>P", "Ge", "P", 0, 1, 17, [ge2p_tot, ge2p_a_s, ge2p_a_p, ge2p_b_s, ge2p_b_p, ge2p_h_s]),
    ("Si<sub>2</sub>As", "Si", "As", 1, 0, 17, [si2as_tot, si2as_a_s, si2as_a_p, si2as_b_s, si2as_b_p, si2as_h_s]),
    ("Ge<sub>2</sub>As", "Ge", "As", 1, 1, 17, [ge2as_tot, ge2as_a_s, ge2as_a_p, ge2as_b_s, ge2as_b_p, ge2as_h_s]),
    ("Si<sub>2</sub>Sb", "Si", "Sb", 2, 0, 16, [si2sb_tot, si2sb_a_s, si2sb_a_p, si2sb_b_s, si2sb_b_p, si2sb_h_s]),
    ("Ge<sub>2</sub>Sb", "Ge", "Sb", 2, 1, 17, [ge2sb_tot, ge2sb_a_s, ge2sb_a_p, ge2sb_b_s, ge2sb_b_p, ge2sb_h_s]),
    ("Si<sub>2</sub>Bi", "Si", "Bi", 3, 0, 17, [si2bi_tot, si2bi_a_s, si2bi_a_p, si2bi_b_s, si2bi_b_p, si2bi_h_s]),
    ("Ge<sub>2</sub>Bi", "Ge", "Bi", 3, 1, 17, [ge2bi_tot, ge2bi_a_s, ge2bi_a_p, ge2bi_b_s, ge2bi_b_p, ge2bi_h_s]),
]

# ---------------- styling / geometry ----------------
W, H = 1273, 894
AX = "#262626"
BLUE, RED, GREEN = "#0000FF", "#FF0000", "#00EE00"
DASHDOT = "10px,4px,3px,4px"
SANS = "Liberation Sans, Arial, sans-serif"
TICK_FONT = dict(family=SANS, size=22, color=AX)
LABEL_FONT = dict(family=SANS, size=24, color=AX)

# pixel extents (from the top-left corner of the figure)
col_px = [(95, 472), (708, 1086)]       # plot area x-extent per column
leg_px = [(480, 664), (1098, 1270)]     # legend box x-extent per column
leg_item = [62, 56]                     # legend sample-line length per column
row_px = [(5, 193), (214, 402), (424, 612), (635, 824)]  # plot area y-extent per row


def px_x(v):
    return v / W


def px_y(v):
    return 1 - v / H


def styles(a, b):
    return [
        ("Total DOS", "black", "solid", 3.6),
        (f"{a}-s", BLUE, DASHDOT, 3.3),
        (f"{a}-p", BLUE, "solid", 3.3),
        (f"{b}-s", RED, DASHDOT, 3.3),
        (f"{b}-p", RED, "solid", 3.3),
        ("H-s", GREEN, DASHDOT, 3.3),
    ]


fig = go.Figure()
layout = {}
annotations = []
shapes = []

for idx, (label, a, b, row, col, ymax, curves) in enumerate(panels):
    k = idx + 1
    sfx = "" if k == 1 else str(k)
    legend_name = "legend" + sfx
    for (name, color, dash, width), values in zip(styles(a, b), curves):
        fig.add_trace(go.Scatter(
            x=energy, y=values, mode="lines", name=name,
            line=dict(color=color, dash=dash, width=width, shape="spline", smoothing=0.7),
            xaxis="x" + sfx, yaxis="y" + sfx, legend=legend_name, showlegend=True,
            hoverinfo="skip",
        ))

    x0, x1 = col_px[col]
    y0, y1 = row_px[row]
    common = dict(
        showline=True, linecolor=AX, linewidth=2, mirror="ticks",
        ticks="inside", ticklen=5, tickwidth=2, tickcolor=AX,
        showgrid=False, zeroline=False, tickfont=TICK_FONT, fixedrange=True,
    )
    layout["xaxis" + sfx] = dict(
        domain=[px_x(x0), px_x(x1)], range=[-4, 4], anchor="y" + sfx,
        tickvals=[-4, -2, 0, 2, 4], showticklabels=(row == 3), ticklabelstandoff=10, **common,
    )
    layout["yaxis" + sfx] = dict(
        domain=[px_y(y1), px_y(y0)], range=[0, ymax], anchor="x" + sfx,
        tickvals=[0, 5, 10, 15], showticklabels=(col == 0), ticklabelstandoff=8, **common,
    )

    # legend placed inside a framed box to the right of each panel
    lx0, lx1 = leg_px[col]
    layout[legend_name] = dict(
        x=px_x(lx0 + 3), y=px_y(y0 - 1), xanchor="left", yanchor="top",
        bgcolor="rgba(0,0,0,0)", borderwidth=0, itemwidth=leg_item[col], tracegroupgap=0,
        traceorder="normal", font=dict(family=SANS, size=21, color="black"),
        itemclick=False, itemdoubleclick=False,
    )
    shapes.append(dict(type="rect", xref="paper", yref="paper",
                       x0=px_x(lx0), x1=px_x(lx1), y0=px_y(y1), y1=px_y(y0),
                       line=dict(color=AX, width=2.5), fillcolor="rgba(0,0,0,0)"))

    # compound label in the upper right of each panel
    annotations.append(dict(
        text=label, x=2.52 if col == 0 else 2.25, xref="x" + sfx,
        y=px_y(y0 + 33), yref="paper", xanchor="left", yanchor="middle",
        showarrow=False, font=dict(family="Lato, Open Sans, sans-serif", size=22, color="black"),
    ))

    if col == 0:
        annotations.append(dict(
            text="DOS  (eV<sup> -1</sup>)", x=px_x(18), y=px_y((y0 + y1) / 2 + 20),
            xref="paper", yref="paper", textangle=-90, showarrow=False,
            xanchor="center", yanchor="middle", font=LABEL_FONT,
        ))
    if row == 3:
        annotations.append(dict(
            text="Energy (eV)", x=px_x((x0 + x1) / 2), y=px_y(886),
            xref="paper", yref="paper", showarrow=False,
            xanchor="center", yanchor="middle", font=LABEL_FONT,
        ))

fig.update_layout(
    width=W, height=H, margin=dict(l=0, r=0, t=0, b=0),
    paper_bgcolor="white", plot_bgcolor="white",
    annotations=annotations, shapes=shapes, **layout,
)

fig.write_html("out.html", config={"displayModeBar": False})
